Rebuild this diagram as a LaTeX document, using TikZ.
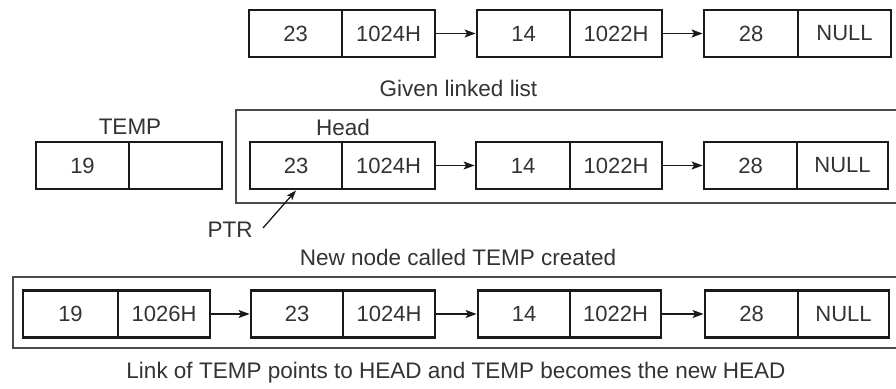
\documentclass[tikz,border=0pt]{standalone}
\usepackage{fontspec}
\setmainfont{Liberation Sans}
\usetikzlibrary{arrows.meta,calc}
\definecolor{ink}{HTML}{1A1A1A}
\definecolor{txt}{HTML}{333333}
\definecolor{frame}{HTML}{4A4A4A}
\tikzset{
  cell/.style={draw=ink, line width=2.8pt, minimum height=47pt, inner sep=0pt, text=txt, font=\fontsize{22}{24}\selectfont},
  link/.style={draw=ink, line width=1.5pt, -{Stealth[length=11pt,width=8pt,inset=2.5pt]}},
  caption/.style={text=txt, font=\fontsize{22.5}{25}\selectfont, inner sep=0pt},
  container/.style={draw=frame, line width=1.5pt},
}
% prefix, x1, xm, x2, yc, data, link
\newcommand\llpair[7]{%
  \node[cell, minimum width={#3-#2}] (#1d) at ({(#2+#3)/2},#5) {#6};
  \node[cell, minimum width={#4-#3}] (#1l) at ({(#3+#4)/2},#5) {#7};
}
\begin{document}
\begin{tikzpicture}[x=1pt,y=-1pt]
\useasboundingbox (0,0) rectangle (896,388);
\fill[white] (0,0) rectangle (896,388);

% containers
\draw[container] (897,110) -- (236,110) -- (236,203) -- (897,203);
\draw[container] (897,277) -- (13,277) -- (13,348) -- (897,348);

% row 1
\llpair{a1}{249}{342}{435}{33.5}{23}{1024H}
\llpair{a2}{477}{570}{662}{33.5}{14}{1022H}
\llpair{a3}{704}{798}{891}{33.5}{28}{NULL}
\draw[link] (a1l.east) -- (a2d.west);
\draw[link] (a2l.east) -- (a3d.west);
\node[caption] (cap1) at (458.5,88) {Given linked list};

% row 2
\node[caption] (templbl) at (130,127) {TEMP};
\node[caption] (headlbl) at (343,127) {Head};
\llpair{t}{36}{129}{222}{165.5}{19}{}
\llpair{b1}{250}{342}{435}{165.5}{23}{1024H}
\llpair{b2}{476}{570}{662}{165.5}{14}{1022H}
\llpair{b3}{704}{797}{888}{165.5}{28}{NULL}
\draw[link] (b1l.east) -- (b2d.west);
\draw[link] (b2l.east) -- (b3d.west);
\node[caption] (ptr) at (230,230) {PTR};
\coordinate (ptrtail) at (263,228);
\draw[draw=ink, line width=1.3pt, -{Stealth[length=10pt,width=7pt,inset=2.5pt]}] (ptrtail) -- (b1d.south);
\node[caption] (cap2) at (458,257) {New node called TEMP created};

% row 3
\llpair{c0}{23}{118}{210}{314}{19}{1026H}
\llpair{c1}{251}{343}{435}{314}{23}{1024H}
\llpair{c2}{478}{570}{661}{314}{14}{1022H}
\llpair{c3}{705}{798}{889}{314}{28}{NULL}
\draw[link] (c0l.east) -- (c1d.west);
\draw[link] (c1l.east) -- (c2d.west);
\draw[link] (c2l.east) -- (c3d.west);
\node[caption] (cap3) at (456,373) {Link of TEMP points to HEAD and TEMP becomes the new HEAD};
\end{tikzpicture}
\end{document}
